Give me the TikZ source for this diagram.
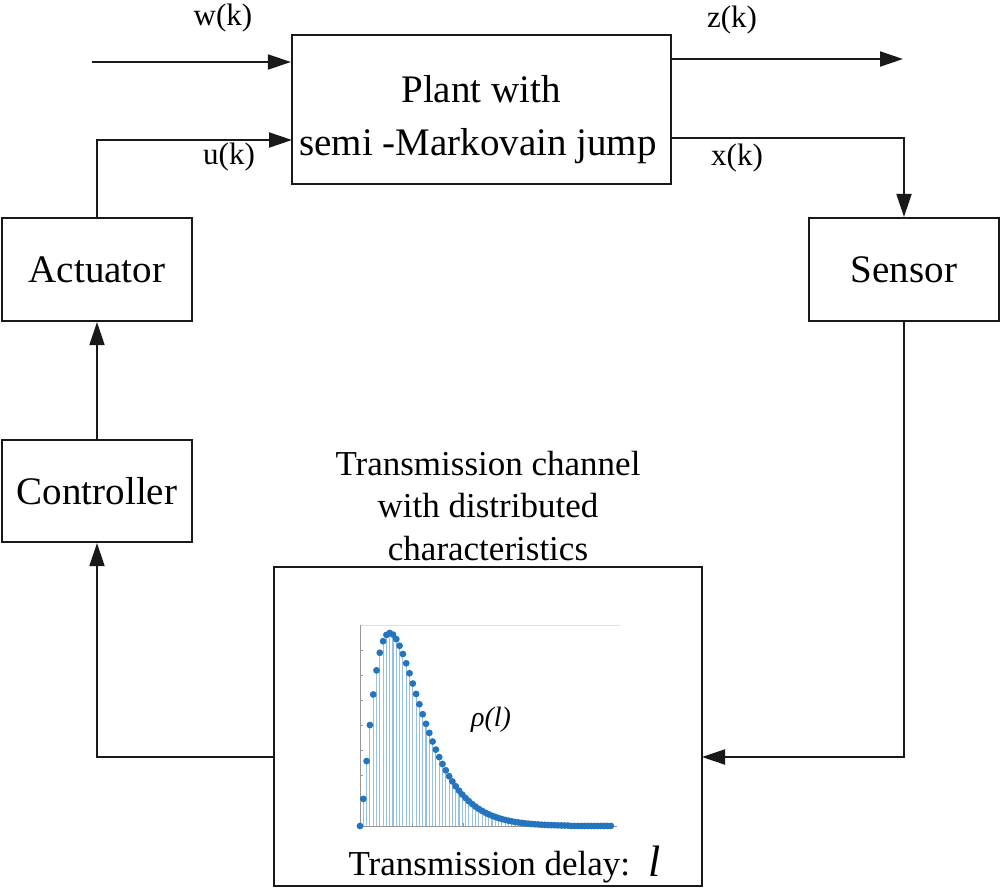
\documentclass[tikz,border=0pt]{standalone}
\usepackage{fontspec}
\setmainfont{Liberation Serif}
\usetikzlibrary{arrows.meta,calc}
\definecolor{stemc}{RGB}{150,192,228}
\definecolor{dotc}{RGB}{36,116,190}
\definecolor{axisc}{RGB}{150,150,150}
\definecolor{linec}{RGB}{25,25,25}
\begin{document}
\begin{tikzpicture}[x=1pt,y=-1pt,
  box/.style={draw=linec,line width=2.2pt,inner sep=0pt},
  big/.style={font=\fontsize{39}{46}\selectfont},
  mid/.style={font=\fontsize{35}{42}\selectfont},
  sig/.style={font=\fontsize{31}{36}\selectfont},
  conn/.style={draw=linec,line width=2pt},
  arr/.style={conn,-{Triangle[length=23pt,width=15pt]}},
  stem/.style={draw=stemc,line width=1.1pt},
  axisline/.style={draw=axisc,line width=1pt},
]
\useasboundingbox (0,0) rectangle (1002,889);

% Plant
\node[box,minimum width=379pt,minimum height=149pt] (plant) at (481.5,109.5) {};
\node[big,anchor=base] (plantA) at (481,102) {Plant with};
\node[big,anchor=base] (plantB) at (478,155) {semi -Markovain jump};

% Side boxes
\node[box,big,minimum width=190pt,minimum height=103pt] (act) at (97,269.5) {Actuator};
\node[box,big,minimum width=190pt,minimum height=102pt] (ctrl) at (97,491) {Controller};
\node[box,big,minimum width=190pt,minimum height=103pt] (sen) at (904,269.5) {Sensor};

% Channel
\node[box,minimum width=428pt,minimum height=319pt] (chan) at (488,726.5) {};
\node[mid,anchor=base] (t1) at (488,475) {Transmission channel};
\node[mid,anchor=base] (t2) at (488,517) {with distributed};
\node[mid,anchor=base] (t3) at (488,560) {characteristics};
\node[mid,anchor=base west] (td) at (345,875) {Transmission delay:};
\node[anchor=base west,font=\fontsize{44}{50}\selectfont\itshape] (ell) at (645,876) {l};

% Signal labels
\node[sig] (wl) at (223,18) {w(k)};
\node[sig] (zl) at (732,20) {z(k)};
\node[sig] (ul) at (229,157) {u(k)};
\node[sig] (xl) at (737,158) {x(k)};

% Connector end points
\coordinate (win) at (92,62);
\coordinate (uin) at (292,140);
\coordinate (zout) at (903,59);
\coordinate (xo) at (672,138);
\coordinate (chin) at (702,757);
\coordinate (chout) at (274,757);

\draw[arr] (win) -- (win -| plant.west);
\draw[arr] (act.north) |- (uin);
\draw[arr] (plant.east |- zout) -- (zout);
\draw[arr] (xo) -| (sen.north);
\draw[arr] (ctrl.north) -- (act.south);
\draw[arr] (sen.south) |- (chin);
\draw[arr] (chout) -| (ctrl.south);

% Stem plot
\draw[draw=black!12,line width=0.8pt] (360,625) -- (620,625);
\foreach \i in {1,...,76}{
  \pgfmathsetmacro{\px}{360+3.3*\i}
  \pgfmathsetmacro{\py}{826-193*pow(\i/9,1.5)*exp(-(\i-9)/6)}
  \draw[stem] (\px,826) -- (\px,\py);
}
\draw[axisline] (360,625) -- (360,826) -- (617,826);
\foreach \ty in {650,675,...,800} \draw[axisline] (360,\ty) -- (363,\ty);
\foreach \tx in {412,463,515,566} \draw[axisline] (\tx,826) -- (\tx,823);
\fill[dotc] (360,826) circle (3.4);
\foreach \i in {1,...,76}{
  \pgfmathsetmacro{\px}{360+3.3*\i}
  \pgfmathsetmacro{\py}{826-193*pow(\i/9,1.5)*exp(-(\i-9)/6)}
  \fill[dotc] (\px,\py) circle (3.4);
}
\node[font=\fontsize{28}{32}\selectfont\itshape] (rho) at (491,720) {ρ(l)};
\end{tikzpicture}
\end{document}
